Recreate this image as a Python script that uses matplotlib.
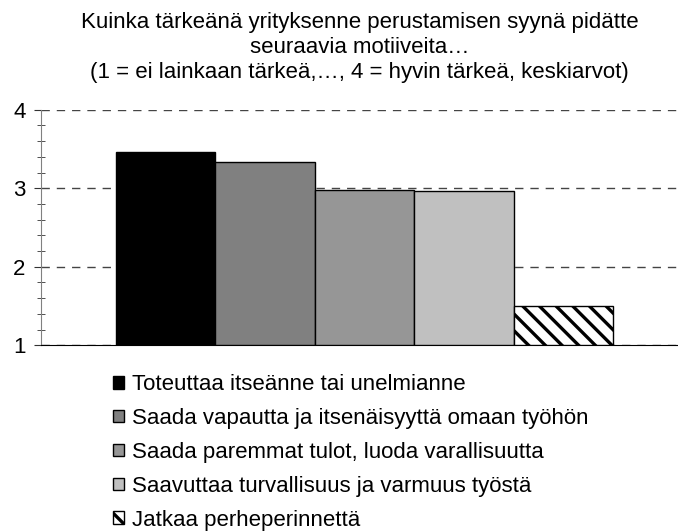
import matplotlib
matplotlib.use('Agg')
import matplotlib.pyplot as plt
from matplotlib.ticker import MultipleLocator

plt.rcParams['font.family'] = ['Liberation Sans', 'DejaVu Sans']
plt.rcParams['hatch.linewidth'] = 2.4

motives = [
    "Toteuttaa itseänne tai unelmianne",
    "Saada vapautta ja itsenäisyyttä omaan työhön",
    "Saada paremmat tulot, luoda varallisuutta",
    "Saavuttaa turvallisuus ja varmuus työstä",
    "Jatkaa perheperinnettä",
]
means = [3.46, 3.33, 2.98, 2.96, 1.5]
colors = ["#000000", "#808080", "#969696", "#c0c0c0", "#ffffff"]
hatches = [None, None, None, None, "\\\\"]

title = ("Kuinka tärkeänä yrityksenne perustamisen syynä pidätte\n"
         "seuraavia motiiveita…\n"
         "(1 = ei lainkaan tärkeä,…, 4 = hyvin tärkeä, keskiarvot)")

fig = plt.figure(figsize=(6.78, 5.31), dpi=100)
ax = fig.add_axes([0.0605, 0.3497, 0.9395, 0.4437])

for i, (m, v, c, h) in enumerate(zip(motives, means, colors, hatches)):
    ax.bar(i, v - 1, bottom=1, width=1.0, color=c, edgecolor="black",
           linewidth=1.0, hatch=h, label=m, zorder=3)

ax.set_ylim(1, 4)
ax.set_xlim(-1.255, 5.155)
ax.yaxis.set_major_locator(MultipleLocator(1))
ax.yaxis.set_minor_locator(MultipleLocator(0.2))
ax.set_xticks([])
ax.grid(axis="y", which="major", linestyle=(0, (6, 5)), color="#444444",
        linewidth=1.0, zorder=1)
for s in ["top", "right"]:
    ax.spines[s].set_visible(False)
ax.spines["left"].set_color("#808080")
ax.spines["bottom"].set_color("black")
ax.tick_params(axis="y", which="major", length=5, direction="out",
               color="#333333", labelsize=16, pad=6)
ax.tick_params(axis="y", which="minor", length=6, direction="inout",
               color="#333333")

fig.text(0.5302, 0.978, title, ha="center", va="top", fontsize=16,
         linespacing=1.27)

fig.legend(loc="upper left", bbox_to_anchor=(0.167, 0.2955), frameon=False,
           fontsize=16, handlelength=0.5, handleheight=0.5,
           handletextpad=0.33, labelspacing=0.58, borderaxespad=0,
           borderpad=0)

fig.savefig("out.png", dpi=100)
